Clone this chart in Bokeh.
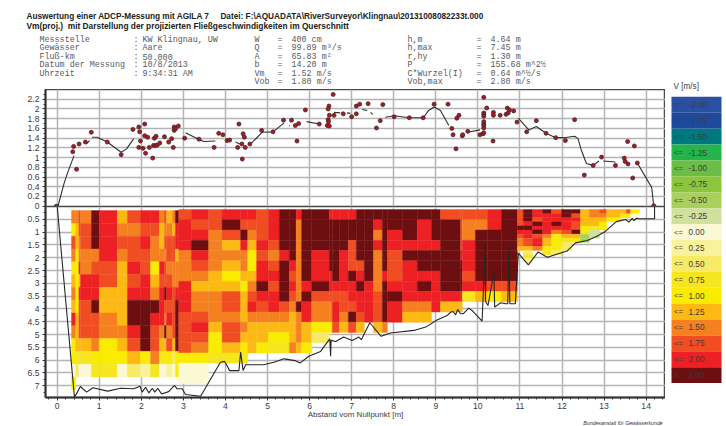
from bokeh.plotting import figure
from bokeh.layouts import column, row
from bokeh.models import Range1d, FixedTicker, NumeralTickFormatter, Label, ColumnDataSource
from bokeh.core.properties import value
from bokeh.embed import file_html
from bokeh.resources import INLINE
import numpy as np

nan = float("nan")
title_1 = "Auswertung einer ADCP-Messung mit AGILA 7\u00a0\u00a0\u00a0\u00a0\u00a0Datei: F:\\AQUADATA\\RiverSurveyor\\Klingnau\\20131008082233t.000"
title_2 = "Vm(proj.)\u00a0 mit Darstellung der projizierten Fließgeschwindigkeiten im Querschnitt"
x_title = "Abstand vom Nullpunkt [m]"
credit = "Bundesanstalt für Gewässerkunde"
tab_a = ["Messstelle", "Gewässer", "Fluß-km", "Datum der Messung", "Uhrzeit"]
tab_b = ["KW Klingnau, UW", "Aare", "50.000", "10/8/2013", "9:34:31 AM"]
tab_c = ["W", "Q", "A", "b", "Vm", "Vob"]
tab_d = ["400 cm", "99.89 m³/s", "65.83 m²", "14.20 m", "1.52 m/s", "1.80 m/s"]
tab_e = ["h,m", "h,max", "r,hy", "P", "C*Wurzel(I)", "Vob,max"]
tab_f = ["4.64 m", "7.45 m", "1.30 m", "155.68 m^2½", "0.64 m^½/s", "2.80 m/s"]

leg_labels = ["-2.00", "-1.75", "-1.50", "-1.25", "-1.00", "-0.75", "-0.50", "-0.25", "0.00",
              "0.25", "0.50", "0.75", "1.00", "1.25", "1.50", "1.75", "2.00", "2.00"]
leg_colors = ["#2b50a3", "#1f4a9c", "#00787f", "#25b34b", "#6cbd45", "#8cc63f", "#a9d05c", "#cfe19c", "#fdf8d4",
              "#faf29a", "#f7ea66", "#f5e61f", "#f9ec00", "#fdb913", "#f58020", "#f04d23", "#ed2024", "#6d0f10"]
class_codes = {"v": 6, "g": 7, "w": 8, "n": 9, "m": 10, "l": 11, "y": 12, "Y": 13, "o": 14, "O": 15, "R": 16, "D": 17}

# left block of cells
a_edges = [0.34, 0.44, 0.515, 0.555, 0.815, 1.0, 1.43, 1.67, 1.98, 2.22, 2.43, 2.55, 2.60, 2.74, 2.81, 2.89]
a_depths = [0.16, 0.66, 1.16, 1.66, 2.16, 2.66, 3.16, 3.66, 4.16, 4.66, 5.16, 5.66, 6.16, 6.66, 7.16]
a_rows = ["ooOoDRYORRoOYoD", "yYOODRooOOYooYR", "OYoODROORoYOOOR", "oyoooRoOOoooOOY",
          "yyRoOOYROyROooo", "YyYRROYORYOOOoo", "oyRRRYYRRoRDROR", "YyOODYYDDDROOOD",
          "RYOOOoYDDRRoROD", "oYOOOooRDOoDoOD", "yYYYoyYODOYYOYD", "ylllyyyYyolyymy",
          "wmwwllwmnlwwnwy", "y"]
# middle block of cells
b_edges = [2.89, 3.19, 3.60, 3.92, 4.36, 4.53, 4.74, 5.02, 5.28, 5.52, 5.68, 5.81, 6.05, 6.47, 6.54, 6.71, 6.92,
           7.11, 7.30, 7.52, 7.73, 7.85, 8.21, 8.56, 8.90, 9.11, 9.59, 9.63, 9.94, 10.23, 10.56, 10.94]
b_depths = [0.12, 0.52, 0.92, 1.32, 1.72, 2.12, 2.52, 2.92, 3.32, 3.72, 4.12, 4.52, 4.92, 5.32, 5.72, 6.12, 6.92]
b_rows = ["ORORRRORDDRDDRRRRDDDDDDDDOOOORD", "ROODOOORDDoDDDDDDDDRDDDRDDOooRD", "RRoODoORDDoDDDDDDDDoDRDRDDOoDDD",
          "RDoYRYRODDoDDDDDODDRDRRRRDORDDD", "oRoooyOoRDoDRDDRODDoDODDDDRRDDD", "oOoYoyRODRoDRDDROODoDORDDDDRDDD",
          "ooYyYYRRDOoDRRDRDRDoRORRRDDODDD", "RYYYyoDODRoRDRRRRDRoDRRDRDDRROO", "RooOYORRDOoDOOOORRRODDRRRRRlYyY",
          "RooOYROROoDRooROORRODRooRYY", "OOooYooooYoRooRoDORODRYY", "ORYOoYYYYYoYyyOYOY.Yo",
          "OOyOYYYyyYoYm", "OoyYyYylloYy", "yylll", "ww"]
# right block of cells
c_edges = [10.94, 11.08, 11.30, 11.54, 11.75, 11.99, 12.23, 12.44, 12.65, 12.89, 13.06, 13.39, 13.53, 13.63, 13.84]
c_depths = [0.12, 0.28, 0.44, 0.60, 0.76, 0.92, 1.08, 1.24, 1.40, 1.56, 1.72, 1.88, 2.04, 2.20]
c_rows = ["ODRDODDYoOYYOy", "ODRRRDOYooYlyw", "ODORRRRYYYy", "ORDRDROYYy", "DDRRRROyly", "RRDRoODlg",
          "OROoyYYvg", "oORYylyv", "oORYym", "YYoyym", ".m.lm", ".l", ".n"]

surf_x = [0.02, 0.16, 0.24, 0.40, nan, 0.69, 0.77, nan, 0.83, 0.95, 1.19, 1.52, 1.65, 1.82, nan, 2.30, 2.42, nan,
          3.05, 3.37, 3.49, 3.76, nan, 4.24, 4.34, nan, 4.60, 4.87, 5.13, 5.39, nan, 5.51, 5.53, nan, 5.93, 6.23, nan,
          6.58, 6.73, nan, 6.89, 6.97, nan, 7.25, 7.37, nan, 7.45, 7.50, nan, 7.80, 8.01, 8.37, 8.70, 8.83, 8.96, 9.11, 9.31, nan,
          9.76, 10.05, nan, 10.96, 11.21, 11.39, 11.62, 11.85, 12.04, 12.30, 12.38, 12.46, 12.58, 12.74, 12.88, nan,
          12.98, 13.27, nan, 13.79, 14.06, 14.13, 14.18]
surf_y = [0.0, 0.46, 0.67, 1.04, nan, 1.28, 1.35, nan, 1.42, 1.42, 1.32, 1.11, 1.18, 1.39, nan, 1.25, 1.25, nan,
          1.51, 1.37, 1.33, 1.34, nan, 1.32, 1.28, nan, 1.28, 1.52, 1.53, 1.71, nan, 1.66, 1.65, nan, 1.74, 1.69, nan,
          1.93, 1.92, nan, 1.92, 1.91, nan, 1.99, 1.97, nan, 1.93, 1.89, nan, 1.83, 1.86, 1.82, 1.82, 1.97, 2.04, 1.97, 1.66, nan,
          1.52, 1.57, nan, 1.81, 1.57, 1.64, 1.50, 1.41, 1.41, 1.44, 1.39, 1.15, 0.88, 0.84, 0.93, nan,
          0.93, 0.91, nan, 0.89, 0.49, 0.39, 0.01]

dot_x = [-0.02, 0.37, 0.39, 0.46, 0.52, 0.67, 0.81, 1.19, 1.52, 1.80, 1.94, 1.96, 1.98, 2.08, 2.08, 2.15, 1.94, 2.04, 2.10,
         2.19, 2.27, 2.31, 2.35, 2.29, 2.34, 2.38, 2.44, 2.55, 2.65, 2.72, 2.76, 2.78, 2.78, 2.81, 2.88, 3.03, 3.37, 3.73,
         3.84, 3.94, 4.04, 4.10, 4.29, 4.32, 4.40, 4.39, 4.47, 4.42, 4.45, 4.58, 4.86, 5.13, 5.38, 5.57, 5.66, 5.74, 5.70,
         5.90, 6.23, 6.56, 6.46, 6.44, 6.47, 6.58, 6.44, 6.45, 6.42, 6.47, 6.80, 7.00, 7.11, 7.11, 7.19, 7.39, 7.59, 7.68,
         7.74, 8.01, 8.37, 8.70, 8.96, 9.29, 9.38, 9.41, 9.48, 9.50, 9.55, 9.63, 9.64, 9.76, 10.05, 10.12, 10.14, 10.14,
         10.21, 10.14, 10.14, 10.14, 10.14, 10.14, 10.14, 10.14, 10.36, 10.37, 10.37, 10.53, 10.67, 10.70, 10.72, 10.75,
         10.85, 10.93, 11.16, 11.39, 11.62, 11.85, 12.08, 12.30, 12.53, 12.74, 12.94, 13.27, 13.48, 13.50, 13.57, 13.56,
         13.72, 13.79, 13.68, 14.18]
dot_y = [0.00, 1.12, 1.23, 0.76, 1.28, 1.32, 1.52, 1.32, 1.06, 1.58, 1.63, 1.53, 1.34, 1.69, 1.45, 1.42, 1.21, 1.19, 1.09,
         1.21, 0.99, 1.40, 1.44, 1.25, 1.25, 1.26, 1.30, 1.43, 1.32, 1.39, 1.21, 1.63, 1.56, 1.59, 1.65, 1.40, 1.38, 1.21,
         1.50, 1.47, 1.35, 1.36, 1.21, 1.69, 0.97, 1.28, 1.21, 1.49, 1.42, 1.28, 1.56, 1.53, 1.77, 1.77, 1.66, 1.70, 1.34,
         1.98, 1.69, 2.30, 2.06, 2.00, 1.87, 1.87, 1.78, 1.74, 1.66, 1.65, 1.90, 1.84, 2.06, 1.90, 2.10, 2.11, 1.61, 1.76,
         2.09, 1.84, 1.82, 1.82, 2.10, 2.10, 1.60, 1.47, 1.18, 1.81, 1.87, 1.45, 1.47, 1.54, 1.47, 1.49, 1.51, 2.24,
         2.02, 1.92, 1.89, 1.85, 1.74, 1.69, 1.66, 1.61, 1.34, 1.93, 1.87, 1.87, 1.89, 2.02, 1.92, 1.98,
         1.96, 1.73, 1.53, 1.76, 1.50, 1.41, 1.35, 1.78, 0.64, 0.84, 1.01, 0.84, 0.99, 0.92, 0.87, 1.33,
         1.24, 0.89, 0.58, 0.01]

bed_x = [0.0, 0.41, 0.48, 0.55, 0.70, 0.85, 1.20, 1.51, 1.82, 1.97, 2.02, 2.10, 2.18, 2.26, 2.32, 2.39, 2.48, 2.65, 2.79, 2.85,
         2.97, 3.05, 3.41, 3.88, 3.98, 4.10, 4.32, 4.36, 4.42, 4.48, 4.91, 5.15, 5.39, 5.66, 5.78, 5.98, 6.26, 6.48, 6.50, 6.51,
         6.62, 6.81, 7.01, 7.17, 7.23, 7.43, 7.70, 7.92, 8.48, 8.76, 9.03, 9.27, 9.35, 9.41, 9.47, 9.52, 9.59, 9.65, 9.78, 9.86,
         10.10, 10.18, 10.18, 10.24, 10.38, 10.40, 10.54, 10.66, 10.71, 10.74, 10.76, 10.89, 10.96, 11.20, 11.43, 11.65, 12.12,
         12.32, 12.60, 12.83, 13.01, 13.29, 13.51, 13.59, 13.67, 13.71, 13.77, 13.83, 14.20, 14.20]
bed_y = [0.0, 7.45, 7.25, 7.03, 7.25, 7.08, 7.21, 7.10, 7.12, 7.02, 7.25, 7.06, 7.28, 7.10, 7.25, 7.10, 7.32, 7.23, 6.99, 7.12,
         7.12, 7.34, 7.41, 6.08, 6.05, 6.41, 6.41, 5.69, 6.41, 6.18, 6.18, 6.08, 5.95, 6.02, 6.11, 5.85, 5.66, 5.17, 5.85, 5.23,
         5.27, 5.10, 5.23, 5.10, 5.20, 4.54, 5.07, 4.94, 4.84, 4.71, 4.43, 4.26, 4.13, 4.10, 4.23, 4.02, 4.19, 4.19, 3.97, 4.06,
         4.48, 1.39, 3.70, 3.87, 2.57, 3.93, 3.76, 3.80, 3.80, 1.55, 3.80, 3.80, 1.82, 2.28, 1.78, 1.98, 1.74,
         1.42, 1.33, 1.16, 1.00, 0.59, 0.51, 0.61, 0.46, 0.55, 0.46, 0.48, 0.48, 0.0]

x_ticks = list(range(15))
x_minor = [i * 0.2 for i in range(-1, 73)]
up_ticks = [0, 0.2, 0.4, 0.6, 0.8, 1, 1.2, 1.4, 1.6, 1.8, 2, 2.2]
low_ticks = [0.5, 1, 1.5, 2, 2.5, 3, 3.5, 4, 4.5, 5, 5.5, 6, 6.5, 7]

FONT = "Liberation Sans"
MONO = "Liberation Mono"
TXT = "#3c3c3c"
GRID = "#b4b4b4"
SPINE = "#4a4a4a"

# ---------- header ----------
head = figure(width=665, height=89, x_range=Range1d(0, 665), y_range=Range1d(89, 0),
              output_backend="svg", toolbar_location=None, min_border=0, outline_line_color=None)
head.axis.visible = False
head.grid.visible = False


def put(x, y, text, font=MONO, size="8.4px", color="#5a5a5a", style_="normal"):
    head.add_layout(Label(x=x, y=y, text=text, text_font=font, text_font_size=size, text_color=color,
                          text_font_style=style_, text_baseline="middle"))


put(26, 16, title_1, FONT, "8.25px", "#222222", "bold")
put(26, 25.2, title_2, FONT, "8.35px", "#222222", "bold")
rows_y = [39, 47.5, 56, 64.5, 73, 81.5]
for xpos, items in [(39, tab_a), (142, tab_b), (254, tab_c), (291, tab_d), (407, tab_e), (490, tab_f)]:
    for yy, it in zip(rows_y, items):
        put(xpos, yy, it)
for yy in rows_y[:5]:
    put(133, yy, ":")
for yy in rows_y:
    put(277, yy, "=")
    put(476, yy, "=")


def style(p, ticks):
    p.grid.grid_line_color = GRID
    p.grid.grid_line_width = 1.5
    p.outline_line_color = SPINE
    p.outline_line_width = 1.5
    p.yaxis.ticker = FixedTicker(ticks=ticks)
    p.yaxis.formatter = NumeralTickFormatter(format="0.[0]")
    for ax in (p.yaxis[0], p.xaxis[0]):
        ax.axis_line_color = "#333333"
        ax.axis_line_width = 2
        ax.major_tick_line_color = "#333333"
        ax.minor_tick_line_color = "#333333"
        ax.major_tick_out = 3
        ax.major_tick_in = 0
        ax.minor_tick_out = 2
        ax.minor_tick_in = 0
        ax.major_label_text_font = FONT
        ax.major_label_text_font_size = "8.6px"
        ax.major_label_text_color = TXT
        ax.major_label_standoff = 3


# ---------- upper panel ----------
top = figure(width=665, height=123, x_range=Range1d(-0.278, 14.46), y_range=Range1d(-0.006, 2.401),
             output_backend="svg", toolbar_location=None, min_border_left=45, min_border_right=0,
             min_border_top=0, min_border_bottom=6)
style(top, up_ticks)
top.yaxis[0].ticker = FixedTicker(ticks=up_ticks, minor_ticks=[i * 0.1 for i in range(0, 24)])
top.xaxis.visible = False
top.xgrid.ticker = FixedTicker(ticks=x_ticks)
top.line(surf_x, surf_y, line_color="#303030", line_width=1.1)
top.scatter(dot_x, dot_y, size=4, fill_color="#b01722", line_color="#3a2a2a", line_width=0.8)

# ---------- lower panel ----------
low = figure(width=665, height=206, x_range=top.x_range, y_range=Range1d(7.46, 0),
             output_backend="svg", toolbar_location=None, min_border_left=45, min_border_right=0,
             min_border_top=0, min_border_bottom=15, margin=(-6, 0, 0, 0), border_fill_alpha=0)
style(low, low_ticks)
low.yaxis[0].ticker = FixedTicker(ticks=low_ticks, minor_ticks=[i * 0.25 for i in range(0, 30)])
low.xaxis[0].ticker = FixedTicker(ticks=x_ticks, minor_ticks=x_minor)
low.xaxis[0].major_label_standoff = 2

left, right, tops, bottoms, cols = [], [], [], [], []
for edges, depths, rows_ in [(a_edges, a_depths, a_rows), (b_edges, b_depths, b_rows), (c_edges, c_depths, c_rows)]:
    for r, s in enumerate(rows_):
        for c, ch in enumerate(s):
            if ch == ".":
                continue
            left.append(edges[c])
            right.append(edges[c + 1])
            tops.append(depths[r])
            bottoms.append(depths[r + 1])
            cols.append(leg_colors[class_codes[ch]])
cells = ColumnDataSource(dict(left=left, right=right, top=tops, bottom=bottoms, color=cols))
low.quad(left="left", right="right", top="top", bottom="bottom", fill_color="color", line_color="color",
         line_width=0.4, source=cells)
low.line(bed_x, bed_y, line_color="#262626", line_width=1.1)

# ---------- axis title and credit line, below the lower panel ----------
foot = figure(width=665, height=18, x_range=Range1d(45, 665), y_range=Range1d(426, 408),
              output_backend="svg", toolbar_location=None, min_border_left=45, min_border_right=0,
              min_border_top=0, min_border_bottom=0, outline_line_color=None, margin=(-4, 0, 0, 0),
              border_fill_alpha=0, background_fill_alpha=0)
foot.axis.visible = False
foot.grid.visible = False
foot.text([355], [413.5], text=[x_title], text_font=value(FONT), text_font_size="8px", text_color=TXT,
          text_align="center", text_baseline="middle")
foot.text([622.5], [422.5], text=[credit], text_font=value(FONT), text_font_size="5.2px", text_font_style="italic",
          text_color="#333333", text_align="center", text_baseline="middle")

# ---------- colour key ----------
key = figure(width=61, height=426, x_range=Range1d(665, 726), y_range=Range1d(20.73, -6.06),
             output_backend="svg", toolbar_location=None, min_border=0, outline_line_color=None)
key.axis.visible = False
key.grid.visible = False
idx = np.arange(len(leg_labels))
key.quad(left=671, right=721, top=idx, bottom=idx + 1, fill_color=leg_colors, line_color=None)
arrows = ["<="] * 17 + [">"]
key.text([673.5] * 18, idx + 0.5, text=arrows, text_font=value(FONT), text_font_size="7.5px",
         text_color=TXT, text_baseline="middle")
key.text([688] * 18, idx + 0.5, text=leg_labels, text_font=value(FONT), text_font_size="8.2px",
         text_color=TXT, text_baseline="middle")
key.text([673], [-0.65], text=["V [m/s]"], text_font=value(FONT), text_font_size="8.2px", text_color=TXT,
         text_baseline="middle")

panels = column(top, low, foot, spacing=0)
page = row(column(head, panels, spacing=0), key, spacing=0)
open("out.html", "w").write(file_html(page, INLINE))
